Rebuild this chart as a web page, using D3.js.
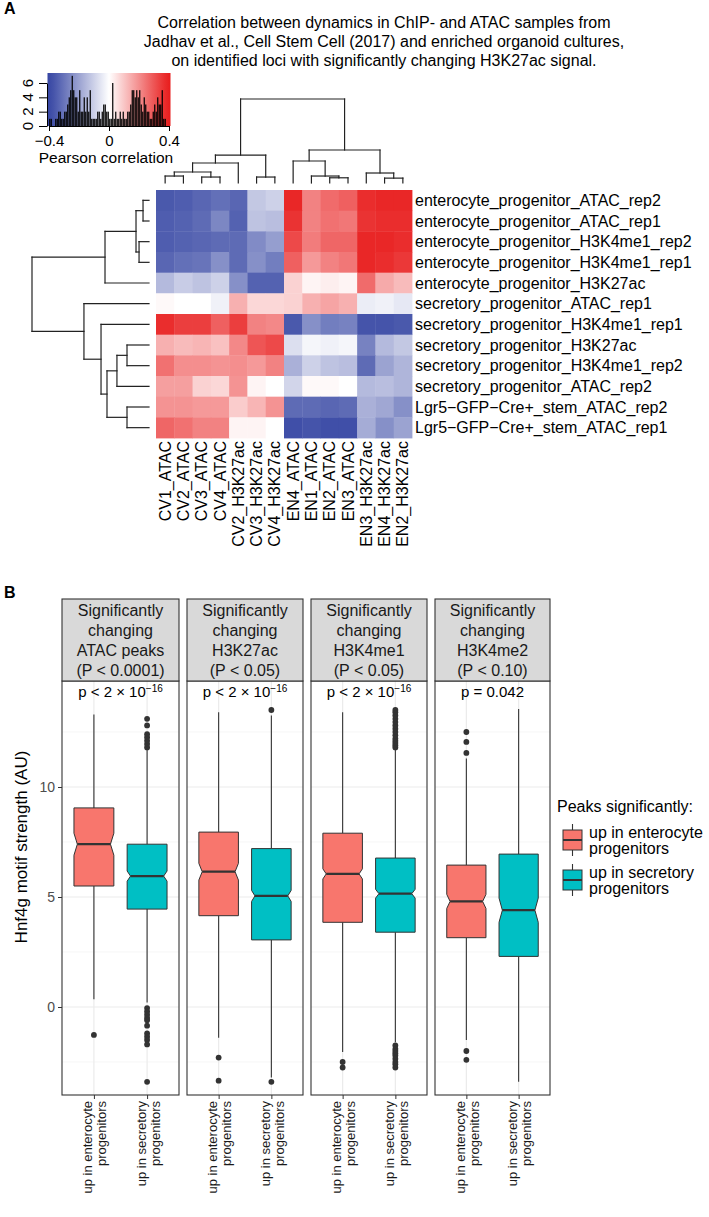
<!DOCTYPE html>
<html><head><meta charset="utf-8">
<script src="https://cdn.jsdelivr.net/npm/d3@7/dist/d3.min.js"></script>
<style>
body{margin:0;background:#fff}
text{font-family:"Liberation Sans",Arial,Helvetica,sans-serif}
</style>
</head><body>
<svg id="c" width="709" height="1217"></svg>
<script>
// ---------------- DATA: panel A ----------------
const titleLines = [
  "Correlation between dynamics in ChIP- and ATAC samples from",
  "Jadhav et al., Cell Stem Cell (2017) and enriched organoid cultures,",
  "on identified loci with significantly changing H3K27ac signal."
];
const rowLabels = [
  "enterocyte_progenitor_ATAC_rep2","enterocyte_progenitor_ATAC_rep1",
  "enterocyte_progenitor_H3K4me1_rep2","enterocyte_progenitor_H3K4me1_rep1",
  "enterocyte_progenitor_H3K27ac","secretory_progenitor_ATAC_rep1",
  "secretory_progenitor_H3K4me1_rep1","secretory_progenitor_H3K27ac",
  "secretory_progenitor_H3K4me1_rep2","secretory_progenitor_ATAC_rep2",
  "Lgr5\u2212GFP\u2212Cre+_stem_ATAC_rep2","Lgr5\u2212GFP\u2212Cre+_stem_ATAC_rep1"
];
const colLabels = ["CV1_ATAC","CV2_ATAC","CV3_ATAC","CV4_ATAC","CV2_H3K27ac","CV3_H3K27ac","CV4_H3K27ac",
  "EN4_ATAC","EN1_ATAC","EN2_ATAC","EN3_ATAC","EN3_H3K27ac","EN4_H3K27ac","EN2_H3K27ac"];
const corr = [
  [-0.36,-0.35,-0.33,-0.31,-0.33,-0.12,-0.10, 0.38,0.22,0.26,0.28, 0.37,0.38,0.38],
  [-0.35,-0.34,-0.32,-0.26,-0.34,-0.13,-0.14, 0.36,0.22,0.25,0.24, 0.36,0.37,0.37],
  [-0.35,-0.34,-0.33,-0.32,-0.32,-0.25,-0.21, 0.32,0.23,0.27,0.27, 0.38,0.38,0.37],
  [-0.33,-0.31,-0.30,-0.24,-0.32,-0.24,-0.28, 0.28,0.18,0.22,0.24, 0.38,0.37,0.35],
  [-0.15,-0.11,-0.13,-0.10,-0.24,-0.34,-0.34, 0.08,0.02,0.03,0.02, 0.26,0.15,0.12],
  [ 0.01, 0.00, 0.00,-0.03, 0.14, 0.07, 0.07, 0.08,0.14,0.16,0.14,-0.04,-0.03,-0.05],
  [ 0.37, 0.34, 0.34, 0.28, 0.34, 0.22, 0.21,-0.36,-0.24,-0.28,-0.27,-0.37,-0.37,-0.36],
  [ 0.14, 0.12, 0.13, 0.11, 0.21, 0.30, 0.32,-0.07,-0.02,-0.03,-0.02,-0.27,-0.15,-0.12],
  [ 0.25, 0.20, 0.20, 0.19, 0.20, 0.18, 0.22,-0.17,-0.10,-0.13,-0.14,-0.32,-0.20,-0.16],
  [ 0.17, 0.17, 0.08, 0.07, 0.19, 0.02, 0.00,-0.09, 0.01, 0.01, 0.00,-0.15,-0.14,-0.16],
  [ 0.19, 0.19, 0.18, 0.18, 0.09, 0.13, 0.19,-0.32,-0.32,-0.33,-0.32,-0.17,-0.19,-0.24],
  [ 0.27, 0.25, 0.22, 0.22, 0.02, 0.02, 0.00,-0.38,-0.37,-0.38,-0.38,-0.18,-0.24,-0.20]
];
// histogram of the colour key: counts in bins of 0.01 from -0.40 to 0.40
const histCounts = [1,1,0,0,1,1,2,2,1,1, 2,2,3,4,5,7,5,4,4,2, 5,2,2,4,2,4,2,5,1,1,
  1,1,2,2,1,2,3,3,2,2, 1,1,6,1,2,1,1,2,1,2, 1,1,2,2,3,5,5,4,5,4,
  5,3,2,4,3,2,2,1,1,2, 3,2,4,3,3,5,1,1,0,0];
const keyTicks = [-0.4, 0, 0.4];
const keyCountTicks = [0, 2, 4, 6];
// dendrograms (merge heights, root = 1)
const colTree = {h:1.0, c:[
  {h:0.333, c:[
    {h:0.238, c:[ {h:0.131, c:[ {h:0.083, c:[0,1]}, {h:0.071, c:[2,3]} ]}, 4 ]},
    {h:0.071, c:[5,6]} ]},
  {h:0.393, c:[
    {h:0.262, c:[ 7, {h:0.083, c:[8, {h:0.062, c:[9,10]}]} ]},
    {h:0.119, c:[ 11, {h:0.058, c:[12,13]} ]} ]}
]};
const rowTree = {h:1.0, c:[
  {h:0.376, c:[ {h:0.111, c:[ {h:0.051, c:[0,1]}, {h:0.085, c:[2,3]} ]}, 4 ]},
  {h:0.556, c:[ 5, {h:0.41, c:[ 6, {h:0.359, c:[ {h:0.274, c:[ {h:0.188, c:[7,8]}, 9 ]}, {h:0.188, c:[10,11]} ]} ]} ]}
]};

// ---------------- DATA: panel B ----------------
const facetTitles = [
  ["Significantly","changing","ATAC peaks","(P < 0.0001)"],
  ["Significantly","changing","H3K27ac","(P < 0.05)"],
  ["Significantly","changing","H3K4me1","(P < 0.05)"],
  ["Significantly","changing","H3K4me2","(P < 0.10)"]
];
const pLabels = [["p < 2 \u00d7 10","\u221216"],["p < 2 \u00d7 10","\u221216"],["p < 2 \u00d7 10","\u221216"],["p = 0.042",""]];
const groups = ["ent","sec"];
const groupLabels = [["up in enterocyte","progenitors"],["up in secretory","progenitors"]];
// [lower whisker, Q1, median, Q3, upper whisker, notch half-height]
const entStats = [[0.35,5.5,7.4,9.05,13.3,0.5],[-1.4,4.15,6.15,7.95,13.4,0.38],[-2.05,3.85,6.05,7.9,13.4,0.23],[-1.5,3.15,4.8,6.45,11.3,0.32]];
const secStats = [[0.2,4.45,5.95,7.4,11.7,0.23],[-3.2,3.05,5.05,7.2,13.25,0.25],[-1.6,3.4,5.15,6.77,11.7,0.2],[-3.4,2.3,4.4,6.95,13.55,0.55]];
const entOutliers = [[-1.27],[-2.3,-3.35],[-2.5,-2.75],[12.5,12.05,11.55,-2.0,-2.4]];
const secOutliers = [
  [11.8,11.95,12.1,12.25,12.4,12.8,13.1,-0.05,-0.2,-0.35,-0.5,-0.6,-0.85,-1.2,-1.35,-1.5,-1.7,-3.4],
  [13.5,-3.4],
  [11.8,11.9,12.0,12.1,12.2,12.35,12.5,12.65,12.8,12.95,13.1,13.25,13.4,13.5,-1.75,-1.9,-2.0,-2.1,-2.2,-2.35,-2.5,-2.6,-2.75],
  []
];
const yMajor = [0,5,10];
const yMinor = [-2.5,2.5,7.5,12.5];
const legendTitle = "Peaks significantly:";
const groupColors = ["#F8766D","#00BFC4"];

// ---------------- DRAW ----------------
const svg = d3.select("#c");
const F = "'Liberation Sans',Arial,Helvetica,sans-serif";
svg.append("rect").attr("width",709).attr("height",1217).attr("fill","#fff");

svg.append("text").attr("x",4).attr("y",14).attr("font-size",16).attr("font-weight","bold").text("A");
svg.append("text").attr("x",4).attr("y",598).attr("font-size",16).attr("font-weight","bold").text("B");

// title
svg.append("g").selectAll("text").data(titleLines).join("text")
  .attr("x",384).attr("y",(d,i)=>28+i*19).attr("text-anchor","middle").attr("font-size",16).text(d=>d);

// heatmap
const hx = d3.scaleBand().domain(d3.range(colLabels.length)).range([156,412]);
const hy = d3.scaleBand().domain(d3.range(rowLabels.length)).range([190,438]);
const col = d3.scaleLinear().domain([-0.4,0,0.4]).range(["#3646A3","#FFFFFF","#E81C1C"]).clamp(true);
const cells = [];
corr.forEach((r,i)=>r.forEach((v,j)=>cells.push({i,j,v})));
svg.append("g").selectAll("rect").data(cells).join("rect")
  .attr("x",d=>hx(d.j)).attr("y",d=>hy(d.i))
  .attr("width",hx.bandwidth()+0.4).attr("height",hy.bandwidth()+0.4)
  .attr("fill",d=>col(d.v));

svg.append("g").selectAll("text").data(rowLabels).join("text")
  .attr("x",415).attr("y",(d,i)=>hy(i)+hy.bandwidth()/2+5.5).attr("font-size",16).text(d=>d);
svg.append("g").selectAll("text").data(colLabels).join("text")
  .attr("transform",(d,i)=>`translate(${hx(i)+hx.bandwidth()/2+5.5},441) rotate(-90)`)
  .attr("text-anchor","end").attr("font-size",16).text(d=>d);

// dendrograms
function toHier(t){
  return d3.hierarchy(t, d => d.c ? d.c.map(x => typeof x === "number" ? {leaf:x, h:0} : x) : null);
}
function drawDendro(tree, leafPos, hScale, vertical){
  const root = toHier(tree);
  root.eachAfter(n=>{ n.pos = n.children ? d3.mean(n.children,c=>c.pos) : leafPos(n.data.leaf); });
  const segs = [];
  root.each(n=>{
    if(!n.children) return;
    const h = hScale(n.data.h);
    const a = n.children[0].pos, b = n.children[1].pos;
    segs.push([a,h,b,h]);
    n.children.forEach(c=>segs.push([c.pos,h,c.pos,hScale(c.data.h)]));
  });
  svg.append("g").selectAll("line").data(segs).join("line")
    .attr("x1",d=>vertical? d[0]:d[1]).attr("y1",d=>vertical? d[1]:d[0])
    .attr("x2",d=>vertical? d[2]:d[3]).attr("y2",d=>vertical? d[3]:d[2])
    .attr("stroke","#222").attr("stroke-width",1.2).attr("stroke-linecap","square");
}
drawDendro(colTree, i=>hx(i)+hx.bandwidth()/2, d3.scaleLinear().domain([0,1]).range([183,99]), true);
drawDendro(rowTree, i=>hy(i)+hy.bandwidth()/2, d3.scaleLinear().domain([0,1]).range([149,32]), false);

// colour key
const kx = d3.scaleLinear().domain([-0.4,0.4]).range([49,169]);
const ky = d3.scaleLinear().domain([0,6]).range([126,83]);
const grad = svg.append("defs").append("linearGradient").attr("id","kg");
d3.range(0,1.0001,0.05).forEach(t=>grad.append("stop").attr("offset",t).attr("stop-color",col(-0.41+0.82*t)));
svg.append("rect").attr("x",kx(-0.41)).attr("y",73).attr("width",kx(0.41)-kx(-0.41)).attr("height",53).attr("fill","url(#kg)");
svg.append("g").selectAll("rect").data(histCounts).join("rect")
  .attr("x",(d,i)=>kx(-0.4+0.01*i)+0.15).attr("width",kx(0.01)-kx(0)-0.3)
  .attr("y",d=>ky(d)).attr("height",d=>ky(0)-ky(d)).attr("fill","#000");
const kAxB = svg.append("g").attr("transform","translate(0,126)")
  .call(d3.axisBottom(kx).tickValues(keyTicks).tickSize(5).tickSizeOuter(0).tickPadding(4).tickFormat(d=>d===0?"0":d3.format(".1f")(d).replace("-","\u2212")));
kAxB.selectAll("text").attr("font-size",15).attr("font-family",F).attr("fill","#000");
kAxB.selectAll("line,path").attr("stroke","#000");
const kAxL = svg.append("g").attr("transform","translate(47,0)")
  .call(d3.axisLeft(ky).tickValues(keyCountTicks).tickSize(8).tickSizeOuter(0).tickFormat(""));
kAxL.selectAll("line,path").attr("stroke","#000");
svg.append("g").selectAll("text").data(keyCountTicks).join("text")
  .attr("transform",d=>`translate(33,${ky(d)}) rotate(-90)`).attr("text-anchor","middle")
  .attr("font-size",15).text(d=>d);
svg.append("text").attr("x",106).attr("y",163).attr("text-anchor","middle").attr("font-size",15.5).text("Pearson correlation");

// ---------------- panel B ----------------
const panelX = [[62,179],[187,303],[311,427],[435,550]];
const stripTop = 599, panelTop = 681, panelBot = 1095;
const y = d3.scaleLinear().domain([0,10]).range([1007,787]);

facetTitles.forEach((ft,f)=>{
  const [x0,x1] = panelX[f];
  const g = svg.append("g");
  const xs = d3.scalePoint().domain(groups).range([x0,x1]).padding(0.6);
  const bw = 0.75*xs.step();
  g.selectAll(".mi").data(yMinor).join("line").attr("x1",x0).attr("x2",x1)
    .attr("y1",d=>y(d)).attr("y2",d=>y(d)).attr("stroke","#F2F2F2").attr("stroke-width",0.7);
  g.selectAll(".ma").data(yMajor).join("line").attr("x1",x0).attr("x2",x1)
    .attr("y1",d=>y(d)).attr("y2",d=>y(d)).attr("stroke","#EBEBEB").attr("stroke-width",1.2);
  g.selectAll(".vx").data(groups).join("line").attr("x1",d=>xs(d)).attr("x2",d=>xs(d))
    .attr("y1",panelTop).attr("y2",panelBot).attr("stroke","#EBEBEB").attr("stroke-width",1.2);
  [entStats[f], secStats[f]].forEach((s,gi)=>{
    const cx = xs(groups[gi]);
    const [lo,q1,md,q3,hi,nh] = s;
    const bx0 = cx-bw/2, bx1 = cx+bw/2, ind = 0.085*bw;
    g.append("line").attr("x1",cx).attr("x2",cx).attr("y1",y(q3)).attr("y2",y(hi)).attr("stroke","#333").attr("stroke-width",1.1);
    g.append("line").attr("x1",cx).attr("x2",cx).attr("y1",y(q1)).attr("y2",y(lo)).attr("stroke","#333").attr("stroke-width",1.1);
    const p = d3.path();
    p.moveTo(bx0,y(q3)); p.lineTo(bx1,y(q3)); p.lineTo(bx1,y(md+nh)); p.lineTo(bx1-ind,y(md));
    p.lineTo(bx1,y(md-nh)); p.lineTo(bx1,y(q1)); p.lineTo(bx0,y(q1)); p.lineTo(bx0,y(md-nh));
    p.lineTo(bx0+ind,y(md)); p.lineTo(bx0,y(md+nh)); p.closePath();
    g.append("path").attr("d",p.toString()).attr("fill",groupColors[gi]).attr("stroke","#333").attr("stroke-width",1);
    g.append("line").attr("x1",bx0+ind).attr("x2",bx1-ind).attr("y1",y(md)).attr("y2",y(md)).attr("stroke","#333").attr("stroke-width",2.2);
    const outs = gi===0 ? entOutliers[f] : secOutliers[f];
    g.selectAll(null).data(outs).join("circle").attr("cx",cx).attr("cy",d=>y(d)).attr("r",2.9).attr("fill","#333");
  });
  const pt = g.append("text").attr("x",(x0+x1)/2).attr("y",697).attr("text-anchor","middle").attr("font-size",15);
  pt.append("tspan").text(pLabels[f][0]);
  if(pLabels[f][1]) pt.append("tspan").attr("font-size",10).attr("dy",-5.5).text(pLabels[f][1]);
  g.append("rect").attr("x",x0).attr("y",panelTop).attr("width",x1-x0).attr("height",panelBot-panelTop)
    .attr("fill","none").attr("stroke","#333").attr("stroke-width",1.1);
  g.append("rect").attr("x",x0).attr("y",stripTop).attr("width",x1-x0).attr("height",panelTop-stripTop)
    .attr("fill","#D9D9D9").attr("stroke","#333").attr("stroke-width",1.1);
  g.selectAll(".st").data(ft).join("text").attr("x",(x0+x1)/2).attr("y",(d,i)=>616+i*20)
    .attr("text-anchor","middle").attr("font-size",16).attr("fill","#1A1A1A").text(d=>d);
  const ax = g.append("g").attr("transform",`translate(0,${panelBot})`)
    .call(d3.axisBottom(xs).tickSize(4).tickSizeOuter(0).tickFormat(""));
  ax.select(".domain").remove();
  ax.selectAll("line").attr("stroke","#333");
  groups.forEach((gr,gi)=>{
    const t = g.append("text").attr("transform",`translate(${xs(gr)},1101) rotate(-90)`)
      .attr("text-anchor","end").attr("font-size",13).attr("fill","#1A1A1A");
    groupLabels[gi].forEach((l,li)=>t.append("tspan").attr("x",0).attr("y",li===0?-1.5:12.5).text(l));
  });
  if(f===0){
    const ay = g.append("g").attr("transform",`translate(${x0},0)`)
      .call(d3.axisLeft(y).tickValues(yMajor).tickSize(4).tickPadding(3));
    ay.select(".domain").remove();
    ay.selectAll("line").attr("stroke","#333");
    ay.selectAll("text").attr("font-size",14).attr("font-family",F).attr("fill","#4D4D4D");
  }
});
svg.append("text").attr("transform","translate(27,847) rotate(-90)").attr("text-anchor","middle")
  .attr("font-size",17).text("Hnf4g motif strength (AU)");

// legend (right of the panels)
const lg = svg.append("g");
lg.append("text").attr("x",557).attr("y",812).attr("font-size",16).text(legendTitle);
groupLabels.forEach((gl,gi)=>{
  const cy = 840 + gi*40, kx0 = 563, kw = 19;
  lg.append("line").attr("x1",kx0+kw/2).attr("x2",kx0+kw/2).attr("y1",cy-16).attr("y2",cy+16).attr("stroke","#333").attr("stroke-width",1.1);
  lg.append("rect").attr("x",kx0).attr("y",cy-10).attr("width",kw).attr("height",20).attr("fill",groupColors[gi]).attr("stroke","#333");
  lg.append("line").attr("x1",kx0).attr("x2",kx0+kw).attr("y1",cy).attr("y2",cy).attr("stroke","#333").attr("stroke-width",2);
  const t = lg.append("text").attr("font-size",16);
  gl.forEach((l,li)=>t.append("tspan").attr("x",589).attr("y",cy-2+li*16).text(l));
});
</script>
</body></html>
